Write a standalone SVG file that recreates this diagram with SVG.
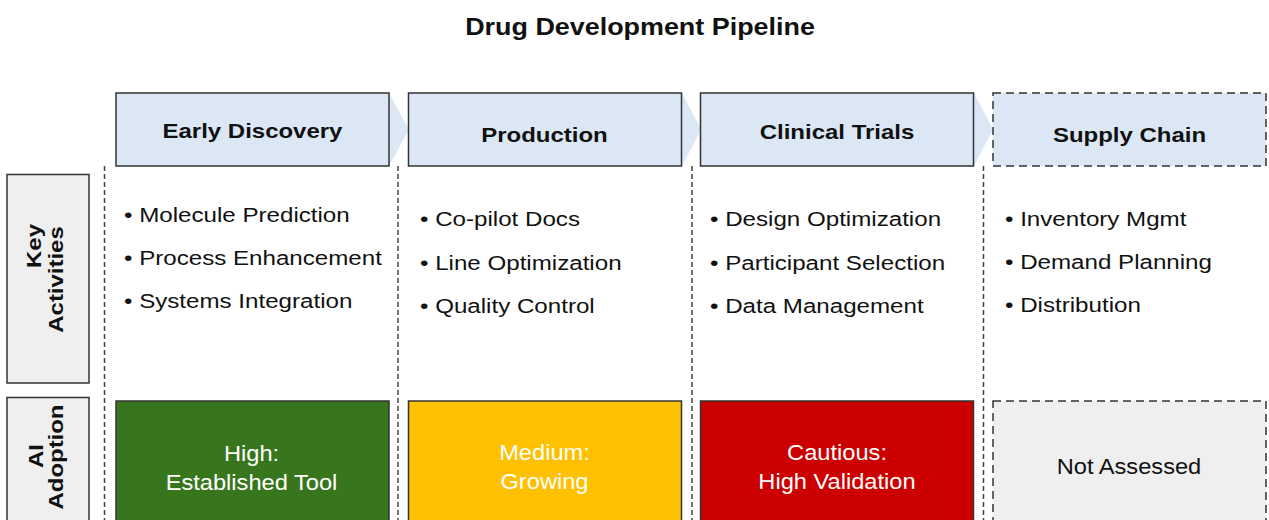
<svg xmlns="http://www.w3.org/2000/svg" width="1269" height="520" viewBox="0 0 1269 520">
  <style>
    .title { font-family: "Liberation Sans", Arial, sans-serif; font-weight: bold; font-size: 23px; fill: #111; }
    .hdr { fill: #dbe7f4; stroke: #333; stroke-width: 1.5; }
    .hdr-dash { fill: #dbe7f4; stroke: #333; stroke-width: 1.5; stroke-dasharray: 8 5; }
    .hdr-text { font-family: "Liberation Sans", Arial, sans-serif; font-weight: bold; font-size: 20.5px; fill: #111; }
    .row { fill: #efefef; stroke: #333; stroke-width: 1.5; }
    .row-text { font-family: "Liberation Sans", Arial, sans-serif; font-weight: bold; font-size: 21px; fill: #111; }
    .bullet { font-family: "Liberation Sans", Arial, sans-serif; font-size: 21px; fill: #111; }
    .adopt { stroke: #333; stroke-width: 1.5; }
    .adopt-text { font-family: "Liberation Sans", Arial, sans-serif; font-size: 21.5px; fill: #ffffff; }
    .na { fill: #efefef; stroke: #333; stroke-width: 1.5; stroke-dasharray: 8 5; }
    .na-text { font-family: "Liberation Sans", Arial, sans-serif; font-size: 21.5px; fill: #111; }
    .sep { stroke: #444; stroke-width: 1.5; stroke-dasharray: 5 3; fill: none; }
    .chev { fill: #dbe7f4; stroke: none; }
  </style>
  <rect width="1269" height="520" fill="#ffffff"/>

  <text class="title" transform="translate(640,35) scale(1.17,1)" text-anchor="middle">Drug Development Pipeline</text>

  <g id="separators">
    <line class="sep" x1="104.5" y1="166" x2="104.5" y2="520"/>
    <line class="sep" x1="398" y1="166" x2="398" y2="520"/>
    <line class="sep" x1="692" y1="166" x2="692" y2="520"/>
    <line class="sep" x1="983.5" y1="166" x2="983.5" y2="520"/>
  </g>

  <g id="connectors">
    <polygon class="chev" points="389,93 409,129.5 389,166"/>
    <polygon class="chev" points="682,93 701,129.5 682,166"/>
    <polygon class="chev" points="974,93 993,129.5 974,166"/>
  </g>

  <g id="stage-early-discovery">
    <rect class="hdr" x="116" y="93" width="273" height="73"/>
    <text class="hdr-text" transform="translate(252.5,137.5) scale(1.17,1)" text-anchor="middle">Early Discovery</text>
  </g>
  <g id="stage-production">
    <rect class="hdr" x="408.5" y="93" width="273" height="73"/>
    <text class="hdr-text" transform="translate(544.5,141.5) scale(1.17,1)" text-anchor="middle">Production</text>
  </g>
  <g id="stage-clinical-trials">
    <rect class="hdr" x="700.5" y="93" width="273" height="73"/>
    <text class="hdr-text" transform="translate(837,138.5) scale(1.17,1)" text-anchor="middle">Clinical Trials</text>
  </g>
  <g id="stage-supply-chain">
    <rect class="hdr-dash" x="993" y="93" width="273" height="73"/>
    <text class="hdr-text" transform="translate(1129.5,141.5) scale(1.17,1)" text-anchor="middle">Supply Chain</text>
  </g>

  <g id="row-key-activities">
    <rect class="row" x="7" y="174.5" width="82" height="208.5"/>
    <text class="row-text" transform="translate(40.5,246) rotate(-90) scale(1.14,1)" text-anchor="middle">Key</text>
    <text class="row-text" transform="translate(63,279.5) rotate(-90) scale(1.14,1)" text-anchor="middle">Activities</text>
  </g>
  <g id="row-ai-adoption">
    <rect class="row" x="7" y="397.5" width="82" height="140"/>
    <text class="row-text" transform="translate(42.5,456) rotate(-90) scale(1.14,1)" text-anchor="middle">AI</text>
    <text class="row-text" transform="translate(63,457) rotate(-90) scale(1.14,1)" text-anchor="middle">Adoption</text>
  </g>

  <g id="activities-early-discovery">
    <text class="bullet" transform="translate(124,221.5) scale(1.15,1)">• Molecule Prediction</text>
    <text class="bullet" transform="translate(124,264.5) scale(1.15,1)">• Process Enhancement</text>
    <text class="bullet" transform="translate(124,307.5) scale(1.15,1)">• Systems Integration</text>
  </g>
  <g id="activities-production">
    <text class="bullet" transform="translate(420,225.5) scale(1.15,1)">• Co-pilot Docs</text>
    <text class="bullet" transform="translate(420,269.5) scale(1.15,1)">• Line Optimization</text>
    <text class="bullet" transform="translate(420,312.5) scale(1.15,1)">• Quality Control</text>
  </g>
  <g id="activities-clinical-trials">
    <text class="bullet" transform="translate(710,226) scale(1.15,1)">• Design Optimization</text>
    <text class="bullet" transform="translate(710,269.5) scale(1.15,1)">• Participant Selection</text>
    <text class="bullet" transform="translate(710,312.5) scale(1.15,1)">• Data Management</text>
  </g>
  <g id="activities-supply-chain">
    <text class="bullet" transform="translate(1005,225.5) scale(1.15,1)">• Inventory Mgmt</text>
    <text class="bullet" transform="translate(1005,268.5) scale(1.15,1)">• Demand Planning</text>
    <text class="bullet" transform="translate(1005,311.5) scale(1.15,1)">• Distribution</text>
  </g>

  <g id="adoption-early-discovery">
    <rect class="adopt" x="116" y="401" width="273" height="140" fill="#38761d"/>
    <text class="adopt-text" transform="translate(251.5,460.5) scale(1.1,1)" text-anchor="middle">High:</text>
    <text class="adopt-text" transform="translate(251.5,489.5) scale(1.1,1)" text-anchor="middle">Established Tool</text>
  </g>
  <g id="adoption-production">
    <rect class="adopt" x="408.5" y="401" width="273" height="140" fill="#ffc000"/>
    <text class="adopt-text" transform="translate(544.5,459.5) scale(1.1,1)" text-anchor="middle">Medium:</text>
    <text class="adopt-text" transform="translate(544.5,488.5) scale(1.1,1)" text-anchor="middle">Growing</text>
  </g>
  <g id="adoption-clinical-trials">
    <rect class="adopt" x="700.5" y="401" width="273" height="140" fill="#cc0000"/>
    <text class="adopt-text" transform="translate(837,459.5) scale(1.1,1)" text-anchor="middle">Cautious:</text>
    <text class="adopt-text" transform="translate(837,488.5) scale(1.1,1)" text-anchor="middle">High Validation</text>
  </g>
  <g id="adoption-supply-chain">
    <rect class="na" x="993" y="401" width="273" height="140"/>
    <text class="na-text" transform="translate(1129,473.5) scale(1.1,1)" text-anchor="middle">Not Assessed</text>
  </g>
</svg>
